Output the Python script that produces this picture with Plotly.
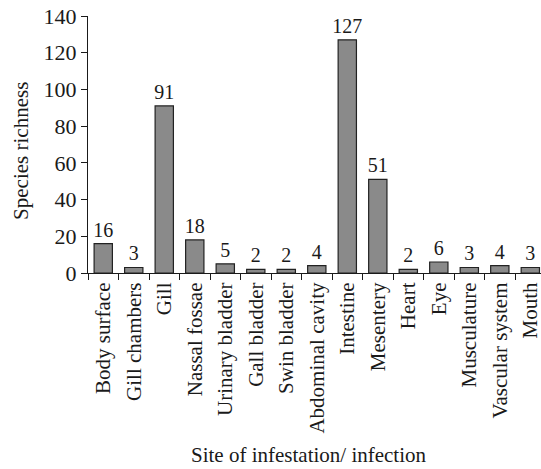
import plotly.graph_objects as go

categories = ["Body surface", "Gill chambers", "Gill", "Nassal fossae", "Urinary bladder",
              "Gall bladder", "Swin bladder", "Abdominal cavity", "Intestine", "Mesentery",
              "Heart", "Eye", "Musculature", "Vascular system", "Mouth"]
richness = [16, 3, 91, 18, 5, 2, 2, 4, 127, 51, 2, 6, 3, 4, 3]
y_ticks = [0, 20, 40, 60, 80, 100, 120, 140]

FONT = "Liberation Serif, Times New Roman, serif"
INK = "#1a1a1a"

fig = go.Figure(go.Bar(
    x=categories, y=richness,
    marker=dict(color="#8a8a8a", line=dict(color="#222222", width=1.2)),
    width=0.6,
    text=[str(v) for v in richness], textposition="outside",
    constraintext="none",
    textfont=dict(family=FONT, size=20, color=INK),
    cliponaxis=False,
))

fig.update_layout(
    width=541, height=469,
    margin=dict(l=88, r=0, t=16, b=196, autoexpand=False),
    paper_bgcolor="white", plot_bgcolor="white",
    showlegend=False,
    font=dict(family=FONT, size=21, color=INK),
    annotations=[
        dict(text="Site of infestation/ infection", xref="paper", yref="paper",
             x=0.488, y=-0.708, xanchor="center", yanchor="middle", showarrow=False,
             font=dict(family=FONT, size=21, color=INK)),
        dict(text="Species richness", xref="paper", yref="paper",
             x=-0.148, y=0.475, xanchor="center", yanchor="middle", showarrow=False,
             textangle=-90, font=dict(family=FONT, size=21, color=INK)),
    ],
)
fig.update_xaxes(
    type="category", range=[-0.5, 14.35], automargin=False,
    tickson="boundaries", ticks="outside", ticklen=6, tickcolor=INK,
    showline=True, linecolor=INK, linewidth=1.2,
    tickangle=-90, tickfont=dict(family=FONT, size=21, color=INK),
    showgrid=False,
)
fig.update_yaxes(
    range=[0, 140], tickvals=y_ticks, ticks="outside", ticklen=6, tickcolor=INK,
    showline=True, linecolor=INK, linewidth=1.2, automargin=False,
    tickfont=dict(family=FONT, size=22, color=INK), showgrid=False, zeroline=False,
)

# remove the default page margin so the 541x469 figure fills the window exactly
fig.write_html("out.html", config={"displayModeBar": False},
               post_script="document.body.style.margin='0px';")
